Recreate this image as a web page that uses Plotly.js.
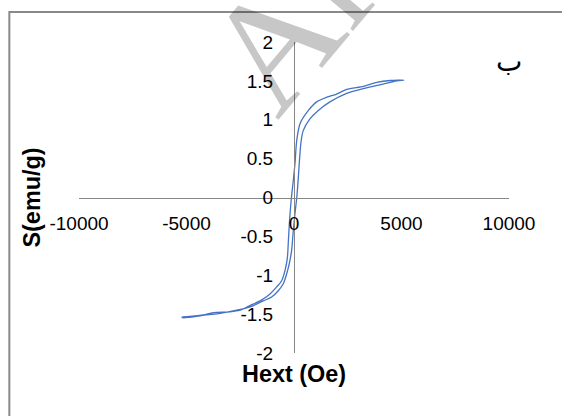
<!DOCTYPE html>
<html>
<head>
<meta charset="utf-8">
<script src="https://cdn.plot.ly/plotly-3.0.1.min.js"></script>
<style>html,body{margin:0;padding:0;background:#fff;}#chart{width:562px;height:416px;}</style>
</head>
<body>
<div id="chart"></div>
<script>
// Descending branch (field from +max to -max)
const H_desc = [5100, 4470, 3850, 3230, 2450, 1980, 1520, 1050, 670, 280, 125, 50, -40, -120, -200, -260, -310, -420, -575, -805, -1115, -1580, -2050, -2510, -2980, -3750, -4220, -4840, -5200];
const S_desc = [1.51, 1.505, 1.48, 1.43, 1.39, 1.33, 1.29, 1.23, 1.12, 0.95, 0.73, 0.45, 0.20, 0.0, -0.27, -0.55, -0.78, -0.94, -1.07, -1.15, -1.24, -1.33, -1.39, -1.45, -1.47, -1.48, -1.51, -1.53, -1.535];
// Ascending branch (field from -max to +max)
const H_asc = [-5200, -4840, -4060, -3440, -2670, -1970, -1430, -1040, -730, -500, -340, -220, -110, -40, 40, 130, 200, 260, 330, 430, 740, 1130, 1670, 2450, 3230, 4000, 4780, 5100];
const S_asc = [-1.545, -1.54, -1.51, -1.49, -1.45, -1.40, -1.33, -1.28, -1.20, -1.11, -0.98, -0.85, -0.68, -0.45, -0.22, 0.0, 0.25, 0.50, 0.72, 0.86, 1.01, 1.12, 1.23, 1.34, 1.40, 1.45, 1.50, 1.51];

const xTickVals = [-10000, -5000, 0, 5000, 10000];
const xTickText = ['-10000', '-5000', '0', '5000', '10000'];
const yTickVals = [2, 1.5, 1, 0.5, 0, -0.5, -1, -1.5, -2];
const yTickText = ['2', '1.5', '1', '0.5', '0', '-0.5', '-1', '-1.5', '-2'];

const xTitle = 'Hext (Oe)';
const yTitle = 'S(emu/g)';
const cornerLabel = 'ب';
const watermark = 'Archive of SID';

const trace = {
  x: H_desc.concat(H_asc),
  y: S_desc.concat(S_asc),
  type: 'scatter',
  mode: 'lines',
  line: {color: '#4472C4', width: 1.3, shape: 'spline', smoothing: 0.8},
  hoverinfo: 'skip'
};

const tickFont = {family: 'Liberation Sans, Arial, sans-serif', size: 19, color: '#000000'};
const titleFont = {family: 'Liberation Sans, Arial, sans-serif', size: 23.4, color: '#000000', weight: 'bold'};

const layout = {
  width: 562,
  height: 416,
  margin: {l: 79, r: 53, t: 42, b: 63, pad: 0},
  paper_bgcolor: '#ffffff',
  plot_bgcolor: 'rgba(0,0,0,0)',
  showlegend: false,
  xaxis: {
    range: [-10000, 10000],
    anchor: 'free',
    position: 0.5,
    tickmode: 'array',
    tickvals: xTickVals,
    ticktext: xTickText,
    showline: true,
    linecolor: '#868686',
    linewidth: 1.3,
    ticks: 'outside',
    ticklen: 8,
    tickcolor: 'rgba(0,0,0,0)',
    tickfont: tickFont,
    showgrid: false,
    zeroline: false,
    title: {text: xTitle, font: titleFont, standoff: 133}
  },
  yaxis: {
    range: [-2, 2],
    anchor: 'free',
    position: 0.5,
    tickmode: 'array',
    tickvals: yTickVals,
    ticktext: yTickText,
    showline: true,
    linecolor: '#868686',
    linewidth: 1.3,
    ticks: 'outside',
    ticklen: 17,
    tickcolor: 'rgba(0,0,0,0)',
    tickfont: tickFont,
    showgrid: false,
    zeroline: false,
    title: {text: yTitle, font: titleFont, standoff: 192}
  },
  shapes: [{
    type: 'rect', xref: 'paper', yref: 'paper', layer: 'above',
    x0: -0.162, x1: 1.3, y0: -0.4, y1: 1.0965,
    line: {color: '#898989', width: 2}, fillcolor: 'rgba(0,0,0,0)'
  }],
  annotations: [
    {
      text: cornerLabel, xref: 'paper', yref: 'paper', x: 1.001, y: 0.936,
      xanchor: 'center', yanchor: 'middle', showarrow: false,
      font: {family: 'DejaVu Sans, sans-serif', size: 28, color: '#000000'}
    },
    {
      text: watermark, xref: 'paper', yref: 'paper', x: 1.095, y: 2.055,
      xanchor: 'center', yanchor: 'middle', showarrow: false, textangle: -50,
      font: {family: 'Liberation Serif, serif', size: 158, color: 'rgba(0,0,0,0.22)'}
    }
  ]
};

Plotly.newPlot('chart', [trace], layout, {staticPlot: true, displayModeBar: false});
</script>
</body>
</html>
